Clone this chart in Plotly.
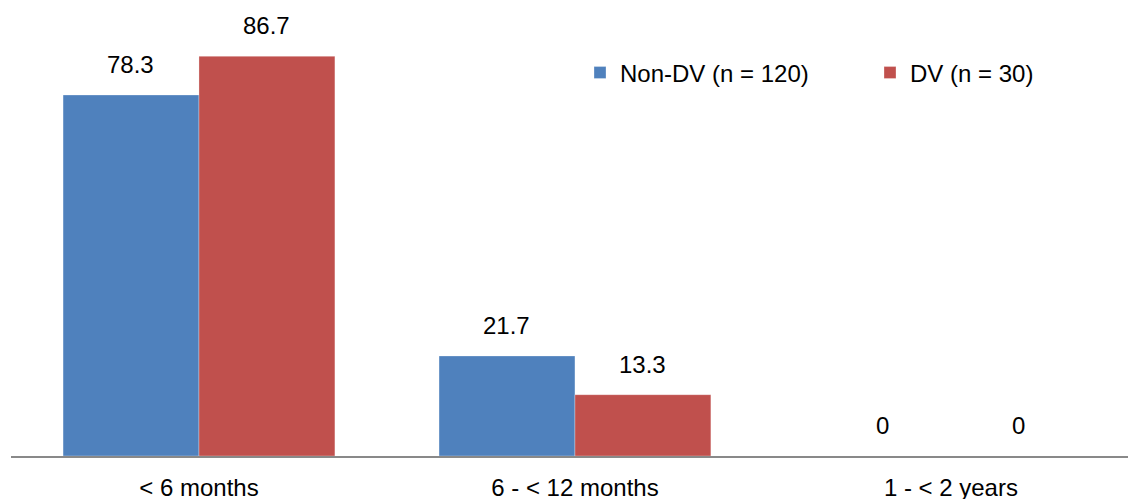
import plotly.graph_objects as go

categories = ["< 6 months", "6 - < 12 months", "1 - < 2 years"]
non_dv = [78.3, 21.7, 0]
dv = [86.7, 13.3, 0]
series_names = ["Non-DV (n = 120)", "DV (n = 30)"]
colors = ["#4F81BD", "#C0504D"]

FONT = "Liberation Sans"
FS = 24

fig = go.Figure()
for name, vals, col, lg in zip(series_names, [non_dv, dv], colors, ["legend", "legend2"]):
    fig.add_trace(go.Bar(
        x=categories, y=vals, name=name, legend=lg,
        marker=dict(color=col, line=dict(color="rgba(255,255,255,0.5)", width=0.6)),
    ))

# data labels
for shift, vals in zip([-68, 68], [non_dv, dv]):
    for c, v in zip(categories, vals):
        fig.add_annotation(
            x=c, y=v, xref="x", yref="y", text=f"{v:g}", showarrow=False,
            xshift=shift, yshift=15, yanchor="bottom",
            font=dict(family=FONT, size=FS, color="#000000"),
        )

legend_common = dict(
    orientation="h", yanchor="middle", y=0.84, xanchor="left",
    font=dict(family=FONT, size=FS, color="#000000"),
    bgcolor="rgba(0,0,0,0)",
)

fig.update_layout(
    width=1128, height=499,
    margin=dict(l=11, r=0, t=0, b=43, autoexpand=False),
    paper_bgcolor="white", plot_bgcolor="white",
    barmode="group", bargap=0.277, bargroupgap=0,
    font=dict(family=FONT, size=FS, color="#000000"),
    showlegend=True,
    legend=dict(x=(580 - 11) / 1117, **legend_common),
    legend2=dict(x=(870 - 11) / 1117, **legend_common),
)
fig.update_xaxes(
    range=[-0.5, 2.471], showline=True, linecolor="#898989", linewidth=1.5,
    ticks="outside", ticklen=9, tickcolor="rgba(0,0,0,0)",
    showgrid=False, zeroline=False,
    tickfont=dict(family=FONT, size=FS, color="#000000"),
)
fig.update_yaxes(range=[0, 98.9], visible=False, showgrid=False, zeroline=False)

fig.write_html(
    "out.html",
    config={"displayModeBar": False},
    post_script="document.body.style.margin='0';document.body.style.padding='0';",
)
